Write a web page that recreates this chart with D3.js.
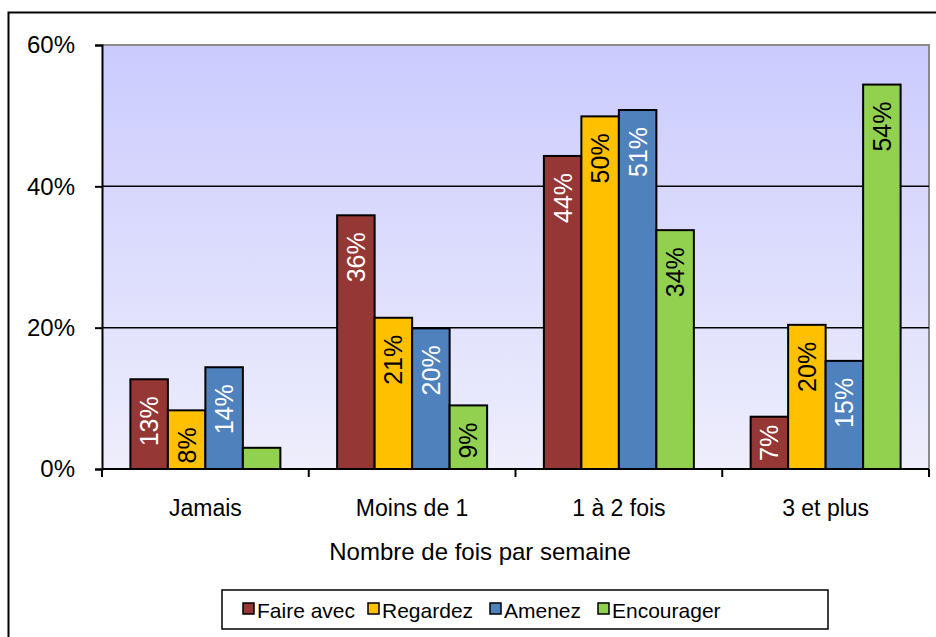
<!DOCTYPE html>
<html>
<head>
<meta charset="utf-8">
<script src="https://cdn.jsdelivr.net/npm/d3@7"></script>
<style>
  html, body { margin: 0; padding: 0; background: #fff; }
  svg { display: block; font-family: "Liberation Sans", Arial, sans-serif; }
</style>
</head>
<body>
<svg id="chart" width="936" height="637"></svg>
<script>
// Frequency categories (x axis)
const categories = ["Jamais", "Moins de 1", "1 à 2 fois", "3 et plus"];
// Series names
const series = ["Faire avec", "Regardez", "Amenez", "Encourager"];
const seriesColors = ["#953735", "#FFC000", "#4F81BD", "#92D050"];
const labelColors = ["#ffffff", "#000000", "#ffffff", "#000000"];
// Values in percent, one array per series (same order as categories)
const faireAvec  = [12.7, 35.9, 44.3, 7.4];
const regardez   = [8.3, 21.4, 49.9, 20.4];
const amenez     = [14.4, 19.9, 50.8, 15.3];
const encourager = [3.0, 9.0, 33.8, 54.4];
// Which values carry a data label
const labelShown = [
  [true, true, true, true],
  [true, true, true, true],
  [true, true, true, true],
  [false, true, true, true]
];
const yTicks = [0, 20, 40, 60];
const xTitle = "Nombre de fois par semaine";

const seriesValues = [faireAvec, regardez, amenez, encourager];

const svg = d3.select("#chart");

// Outer chart frame
svg.append("rect")
  .attr("x", 8.5).attr("y", 12.5)
  .attr("width", 1000).attr("height", 1000)
  .attr("fill", "#fff").attr("stroke", "#000").attr("stroke-width", 2);

const plot = { left: 102, right: 929, top: 45, bottom: 469 };

const y = d3.scaleLinear().domain([0, 60]).range([plot.bottom, plot.top]);
const x0 = d3.scaleBand().domain(categories).range([plot.left, plot.right]).padding(0);
const x1 = d3.scaleBand().domain(series).range([0, x0.bandwidth()])
  .paddingInner(0).paddingOuter(0.757);

// Plot background gradient
const defs = svg.append("defs");
const grad = defs.append("linearGradient").attr("id", "bg")
  .attr("x1", 0).attr("y1", 0).attr("x2", 0).attr("y2", 1);
grad.append("stop").attr("offset", "0%").attr("stop-color", "#CBCBFE");
grad.append("stop").attr("offset", "100%").attr("stop-color", "#EEEEFC");

svg.append("rect")
  .attr("x", plot.left).attr("y", plot.top)
  .attr("width", plot.right - plot.left).attr("height", plot.bottom - plot.top)
  .attr("fill", "url(#bg)");

// Gray plot border (top and right)
svg.append("path")
  .attr("d", `M${plot.left},${plot.top}H${plot.right}V${plot.bottom}`)
  .attr("fill", "none").attr("stroke", "#8a8a8a").attr("stroke-width", 2);

// Gridlines
svg.append("g").selectAll("line")
  .data(yTicks.filter(t => t > 0 && t < 60))
  .join("line")
  .attr("x1", plot.left).attr("x2", plot.right)
  .attr("y1", d => y(d)).attr("y2", d => y(d))
  .attr("stroke", "#000").attr("stroke-width", 1.5);

// Y axis
const yAxis = d3.axisLeft(y).tickValues(yTicks).tickFormat(d => d + "%")
  .tickSize(7).tickPadding(20);
const gy = svg.append("g").attr("transform", `translate(${plot.left},0)`).call(yAxis);
gy.select(".domain").attr("stroke", "#000").attr("stroke-width", 2);
gy.selectAll(".tick line").attr("stroke", "#000").attr("stroke-width", 2);
gy.selectAll(".tick text")
  .attr("font-family", "Liberation Sans, Arial, sans-serif")
  .attr("font-size", 24).attr("fill", "#000");

// Bars
const groups = svg.append("g").selectAll("g")
  .data(categories)
  .join("g")
  .attr("transform", d => `translate(${x0(d)},0)`);

groups.each(function (cat, ci) {
  const g = d3.select(this);
  series.forEach((s, si) => {
    const v = seriesValues[si][ci];
    g.append("rect")
      .attr("x", x1(s)).attr("y", y(v))
      .attr("width", x1.bandwidth()).attr("height", y(0) - y(v))
      .attr("fill", seriesColors[si])
      .attr("stroke", "#000").attr("stroke-width", 2);
  });
});

// Bar value labels, rotated, inside the top of each bar
const labelSize = 25;
groups.each(function (cat, ci) {
  const g = d3.select(this);
  series.forEach((s, si) => {
    if (!labelShown[si][ci]) return;
    const v = seriesValues[si][ci];
    const txt = Math.round(v) + "%";
    const cx = x1(s) + x1.bandwidth() / 2;
    const t = g.append("text")
      .attr("font-size", labelSize)
      .attr("fill", labelColors[si])
      .attr("dominant-baseline", "central")
      .text(txt);
    const len = t.node().getComputedTextLength();
    const top = y(v), bottom = y(0);
    let yEnd = top + 17;
    if (yEnd + len > bottom - 4) yEnd = (top + bottom) / 2 - len / 2;
    t.attr("text-anchor", "end")
      .attr("transform", `translate(${cx},${yEnd}) rotate(-90)`);
  });
});

// X axis line and separators between categories
svg.append("line")
  .attr("x1", plot.left).attr("x2", plot.right)
  .attr("y1", plot.bottom).attr("y2", plot.bottom)
  .attr("stroke", "#000").attr("stroke-width", 2);
const bounds = categories.map(c => x0(c)).concat([plot.right]);
svg.append("g").selectAll("line")
  .data(bounds)
  .join("line")
  .attr("x1", d => d).attr("x2", d => d)
  .attr("y1", plot.bottom).attr("y2", plot.bottom + 8)
  .attr("stroke", "#000").attr("stroke-width", 2);

// Category labels
svg.append("g").selectAll("text")
  .data(categories)
  .join("text")
  .attr("x", d => x0(d) + x0.bandwidth() / 2)
  .attr("y", 516)
  .attr("text-anchor", "middle")
  .attr("font-size", 23)
  .attr("fill", "#000")
  .text(d => d);

// Axis title
svg.append("text")
  .attr("x", 480).attr("y", 560)
  .attr("text-anchor", "middle")
  .attr("font-size", 24)
  .attr("fill", "#000")
  .text(xTitle);

// Legend
const legend = svg.append("g");
legend.append("rect")
  .attr("x", 222).attr("y", 590)
  .attr("width", 606).attr("height", 39)
  .attr("fill", "#fff").attr("stroke", "#000").attr("stroke-width", 1.5);
const legendX = [243, 368, 490, 598];
series.forEach((s, i) => {
  legend.append("rect")
    .attr("x", legendX[i]).attr("y", 603)
    .attr("width", 11).attr("height", 11)
    .attr("fill", seriesColors[i]).attr("stroke", "#000").attr("stroke-width", 1.5);
  legend.append("text")
    .attr("x", legendX[i] + 14).attr("y", 618)
    .attr("font-size", 21)
    .attr("fill", "#000")
    .text(s);
});
</script>
</body>
</html>
